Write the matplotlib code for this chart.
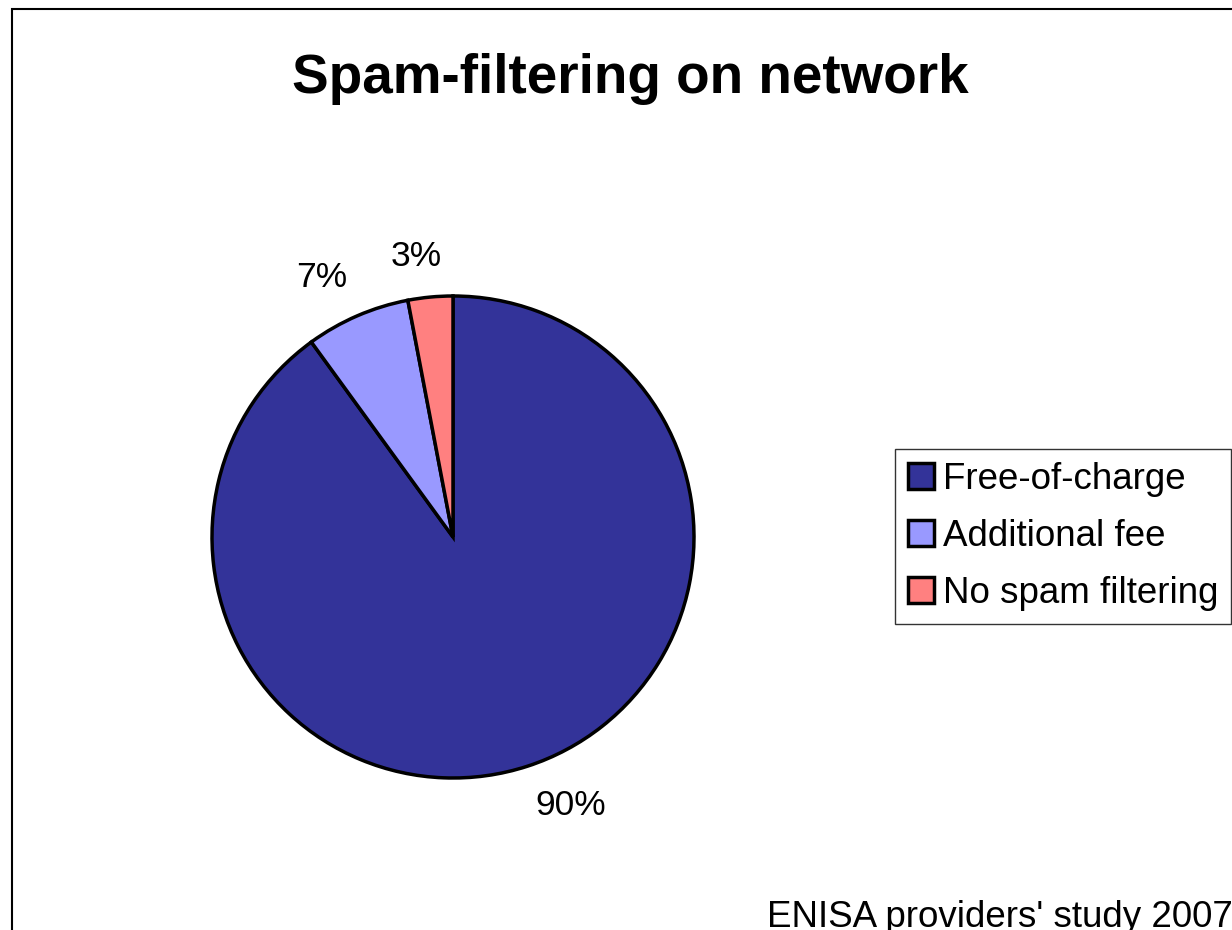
import matplotlib
matplotlib.use("Agg")
import matplotlib.pyplot as plt
from matplotlib.patches import Rectangle

plt.rcParams['font.family'] = ['Liberation Sans', 'DejaVu Sans']

# data
categories = ["Free-of-charge", "Additional fee", "No spam filtering"]
shares = [90, 7, 3]
colors = ["#333399", "#9999FF", "#FF8080"]

W, H = 1232, 930
fig = plt.figure(figsize=(W / 100, H / 100), dpi=100)

# outer chart border (runs off the right and bottom edges)
fig.add_artist(Rectangle((12 / W, -0.1), 1.2, 1 - 9 / H + 0.1, transform=fig.transFigure,
                         fill=False, edgecolor="black", lw=1.5))

fig.text(630 / W, 1 - 93 / H, "Spam-filtering on network", ha="center", va="baseline",
         fontsize=39.5, fontweight="bold")

# pie axes: centre (453, 537), radius 241 px
cx, cy, r = 453, 537, 241
ax = fig.add_axes([(cx - r) / W, 1 - (cy + r) / H, 2 * r / W, 2 * r / H])
wedges, texts = ax.pie(shares, colors=colors, startangle=90, counterclock=False,
                       labels=[f"{v}%" for v in shares], labeldistance=1.1,
                       wedgeprops=dict(edgecolor="black", linewidth=2.5),
                       textprops=dict(fontsize=25.5))
for t in texts:
    x, y = t.get_position()
    t.set_va("top" if y < 0 else "bottom")
    if abs(x) < 0.2:
        t.set_ha("center")
        t.set_position((x - 0.05, y))
ax.set_xlim(-1, 1)
ax.set_ylim(-1, 1)
ax.set_aspect("equal")
ax.axis("off")

handles = [Rectangle((0, 0), 1, 1, facecolor=c, edgecolor="black", lw=2.5) for c in colors]
leg = fig.legend(handles, categories, loc="upper left", bbox_to_anchor=(895 / W, 1 - 449 / H),
                 fontsize=26.5, frameon=True, fancybox=False, edgecolor="black",
                 handlelength=0.7, handleheight=0.7, handletextpad=0.25,
                 labelspacing=0.6, borderpad=0.35, borderaxespad=0)
leg.get_frame().set_linewidth(1.0)

fig.text(767 / W, 1 - 927 / H, "ENISA providers' study 2007", ha="left", va="baseline",
         fontsize=26.5)

fig.savefig("out.png", dpi=100)
